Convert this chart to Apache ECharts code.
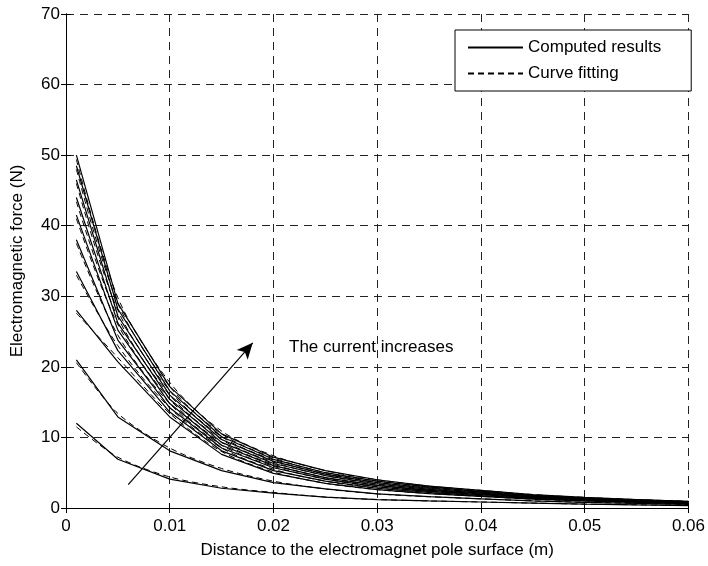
<!DOCTYPE html>
<html>
<head>
<meta charset="utf-8">
<script src="https://cdn.jsdelivr.net/npm/echarts@6/dist/echarts.min.js"></script>
<style>
  html, body { margin: 0; padding: 0; background: #fff; }
  #chart { width: 708px; height: 566px; }
</style>
</head>
<body>
<div id="chart"></div>
<script>
// distance to the pole surface (m)
var distances = [0.001, 0.005, 0.01, 0.015, 0.02, 0.025, 0.03, 0.035, 0.04, 0.045, 0.05, 0.055, 0.06];

// computed results, one curve per current, largest current first
var calc1 = [50, 29, 17.2, 10.5, 7.2, 5.3, 4.0, 3.1, 2.5, 1.9, 1.5, 1.2, 0.95];
var calc2 = [48.5, 28.2, 16.6, 10.1, 6.9, 5.0, 3.8, 2.95, 2.35, 1.8, 1.4, 1.15, 0.9];
var calc3 = [46.5, 27.2, 16.0, 9.7, 6.6, 4.8, 3.6, 2.8, 2.25, 1.7, 1.35, 1.1, 0.85];
var calc4 = [44, 26.2, 15.4, 9.3, 6.3, 4.6, 3.4, 2.65, 2.1, 1.6, 1.3, 1.05, 0.8];
var calc5 = [41.5, 25.2, 14.8, 8.9, 6.0, 4.3, 3.2, 2.5, 2.0, 1.55, 1.2, 1.0, 0.75];
var calc6 = [38, 23.8, 14.2, 8.5, 5.7, 4.1, 3.0, 2.35, 1.9, 1.45, 1.15, 0.95, 0.7];
var calc7 = [33.5, 22.3, 13.6, 8.1, 5.3, 3.8, 2.8, 2.2, 1.75, 1.35, 1.05, 0.85, 0.65];
var calc8 = [28, 20.7, 12.9, 7.6, 4.9, 3.5, 2.6, 2.05, 1.65, 1.25, 1.0, 0.8, 0.6];
var calc9 = [21, 12.9, 8.1, 5.3, 3.6, 2.7, 2.0, 1.6, 1.3, 1.0, 0.8, 0.65, 0.5];
var calc10 = [12, 6.9, 4.1, 2.8, 2.1, 1.55, 1.2, 1.0, 0.85, 0.7, 0.55, 0.45, 0.35];

// curve fitting
var fit1 = [49.4, 29.8, 17.8, 10.9, 7.4, 5.3, 4.0, 3.1, 2.5, 1.9, 1.5, 1.2, 0.95];
var fit2 = [48.0, 29.0, 17.2, 10.5, 7.1, 5.0, 3.8, 2.95, 2.35, 1.8, 1.4, 1.15, 0.9];
var fit3 = [46.0, 28.0, 16.6, 10.1, 6.8, 4.8, 3.6, 2.8, 2.25, 1.7, 1.35, 1.1, 0.85];
var fit4 = [43.4, 27.0, 16.0, 9.7, 6.5, 4.6, 3.4, 2.65, 2.1, 1.6, 1.3, 1.05, 0.8];
var fit5 = [41.0, 26.0, 15.4, 9.3, 6.2, 4.3, 3.2, 2.5, 2.0, 1.55, 1.2, 1.0, 0.75];
var fit6 = [37.5, 24.5, 14.8, 8.9, 5.9, 4.1, 3.0, 2.35, 1.9, 1.45, 1.15, 0.95, 0.7];
var fit7 = [33.0, 23.0, 14.2, 8.5, 5.5, 3.8, 2.8, 2.2, 1.75, 1.35, 1.05, 0.85, 0.65];
var fit8 = [27.6, 21.3, 13.4, 8.0, 5.1, 3.5, 2.6, 2.05, 1.65, 1.25, 1.0, 0.8, 0.6];
var fit9 = [20.6, 13.4, 8.5, 5.6, 3.8, 2.7, 2.0, 1.6, 1.3, 1.0, 0.8, 0.65, 0.5];
var fit10 = [11.5, 7.2, 4.4, 3.0, 2.2, 1.55, 1.2, 1.0, 0.85, 0.7, 0.55, 0.45, 0.35];

var calcCurves = [calc1, calc2, calc3, calc4, calc5, calc6, calc7, calc8, calc9, calc10];
var fitCurves = [fit1, fit2, fit3, fit4, fit5, fit6, fit7, fit8, fit9, fit10];

// arrow: tail and head (distance, force)
var arrowFrom = [0.006, 3.3];
var arrowTo = [0.018, 23.4];

var font = 'Liberation Sans, Arial, sans-serif';

function pairs(ys) {
    var out = [];
    for (var i = 0; i < distances.length; i++) {
        out.push([distances[i], ys[i]]);
    }
    return out;
}

var series = [];
for (var i = 0; i < calcCurves.length; i++) {
    series.push({
        name: 'Computed results',
        type: 'line',
        symbol: 'none',
        data: pairs(calcCurves[i]),
        itemStyle: { color: '#000' },
        lineStyle: { color: '#000', width: 1.2 },
        z: 3
    });
}
for (var j = 0; j < fitCurves.length; j++) {
    series.push({
        name: 'Curve fitting',
        type: 'line',
        symbol: 'none',
        smooth: 0.3,
        data: pairs(fitCurves[j]),
        itemStyle: { color: '#000' },
        lineStyle: { color: '#000', width: 1, type: [6, 4] },
        z: 2
    });
}

// the arrow sits on the first series
series[0].markLine = {
    silent: true,
    symbol: ['none', 'arrow'],
    symbolSize: [11, 16],
    label: { show: false },
    lineStyle: { color: '#000', width: 1.2, type: 'solid' },
    data: [[{ coord: arrowFrom }, { coord: arrowTo }]]
};

var myChart = echarts.init(document.getElementById('chart'));

var option = {
    animation: false,
    backgroundColor: '#fff',
    textStyle: { fontFamily: font },
    grid: { left: 66, right: 18, top: 14, bottom: 58 },
    legend: {
        orient: 'vertical',
        left: 455,
        top: 30,
        data: ['Computed results', 'Curve fitting'],
        itemWidth: 55,
        itemHeight: 12,
        itemGap: 9,
        padding: [9, 30, 9, 12],
        borderColor: '#000',
        borderWidth: 1,
        backgroundColor: '#fff',
        itemStyle: { opacity: 0 },
        textStyle: { fontFamily: font, fontSize: 17, color: '#000' }
    },
    xAxis: [{
        type: 'value',
        min: 0,
        max: 0.06,
        interval: 0.01,
        name: 'Distance to the electromagnet pole surface (m)',
        nameLocation: 'middle',
        nameGap: 34,
        nameTextStyle: { fontFamily: font, fontSize: 17, color: '#000' },
        axisLine: { lineStyle: { color: '#000', width: 1 } },
        axisTick: { inside: true, length: 5, lineStyle: { color: '#000' } },
        axisLabel: { fontFamily: font, fontSize: 17, color: '#000', margin: 10 },
        splitLine: { show: true, lineStyle: { color: '#222', type: [8, 6], width: 1 } }
    }, {
        type: 'value',
        position: 'top',
        min: 0,
        max: 0.06,
        interval: 0.01,
        axisLine: { show: true, lineStyle: { color: '#000', width: 1 } },
        axisTick: { inside: true, length: 5, lineStyle: { color: '#000' } },
        axisLabel: { show: false },
        splitLine: { show: false }
    }],
    yAxis: [{
        type: 'value',
        min: 0,
        max: 70,
        interval: 10,
        name: 'Electromagnetic force (N)',
        nameLocation: 'middle',
        nameGap: 40,
        nameTextStyle: { fontFamily: font, fontSize: 17, color: '#000' },
        axisLine: { show: true, lineStyle: { color: '#000', width: 1 } },
        axisTick: { inside: true, length: 5, lineStyle: { color: '#000' } },
        axisLabel: { fontFamily: font, fontSize: 17, color: '#000', margin: 6 },
        splitLine: { show: true, lineStyle: { color: '#222', type: [8, 6], width: 1 } }
    }, {
        type: 'value',
        position: 'right',
        min: 0,
        max: 70,
        interval: 10,
        axisLine: { show: true, lineStyle: { color: '#000', width: 1 } },
        axisTick: { inside: true, length: 5, lineStyle: { color: '#000' } },
        axisLabel: { show: false },
        splitLine: { show: false }
    }],
    graphic: [{
        type: 'text',
        left: 289,
        top: 339,
        style: {
            text: 'The current increases',
            font: '17px ' + font,
            fill: '#000'
        }
    }],
    series: series
};

myChart.setOption(option);
</script>
</body>
</html>
